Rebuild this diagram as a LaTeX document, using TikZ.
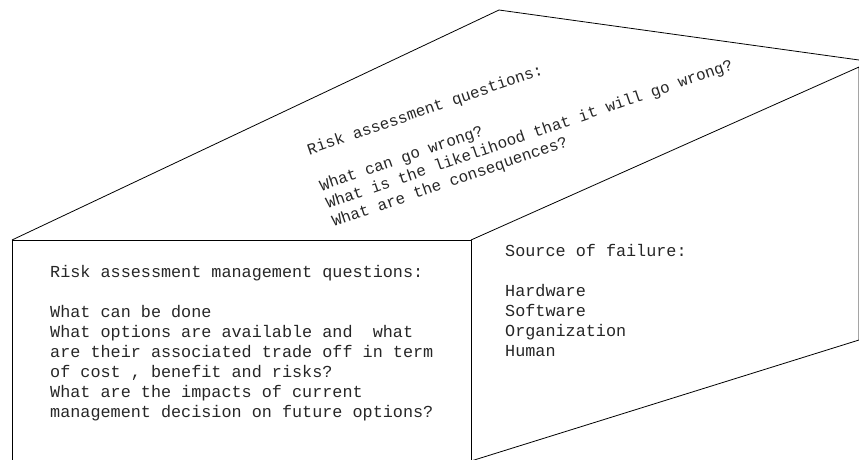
\documentclass[tikz,border=0pt]{standalone}
\usepackage{fontspec}
\newfontfamily\cadfont{Liberation Mono}
\begin{document}
\begin{tikzpicture}[x=1pt,y=-1pt,
    edge/.style = {line width=0.8pt, line join=round},
    txt/.style = {font=\cadfont\fontsize{16.8}{20}\selectfont, text=black!85, align=left, anchor=base west, inner sep=0pt}]
  \useasboundingbox (0,0) rectangle (859,459);
  \clip (0,0) rectangle (859,459);
  % corners of the house
  \coordinate (fl) at (12,240);  \coordinate (fr) at (471,240);
  \coordinate (top) at (499,10); \coordinate (rt) at (859,60);
  \coordinate (rr) at (859,67);  \coordinate (rb) at (859,340);
  \coordinate (bl) at (12,470);  \coordinate (br) at (471,470);
  \coordinate (bb) at (471,461);

  \draw[edge] (bl) -- (fl) -- (fr) -- (br);
  \draw[edge] (fl) -- (top) -- (rt); \draw[edge] (fr) -- (rr) -- (rb) -- (bb);

  % base of a node sits on its last line
  \node[txt, rotate=19, font=\cadfont\fontsize{15.9}{19}\selectfont](roof) at (334,227) {Risk assessment questions:\\[19pt]What can go wrong?\\What is the likelihood that it will go wrong?\\What are the consequences?};
  \node[txt](front) at (50,417) {Risk assessment management questions:\\[20pt]What can be done\\What options are available and~ what\\are their associated trade off in term\\of cost , benefit and risks?\\What are the impacts of current\\management decision on future options?};
  \node[txt](side) at (505,356) {Source of failure:\\[20pt]Hardware\\Software\\Organization\\Human};
\end{tikzpicture}
\end{document}
